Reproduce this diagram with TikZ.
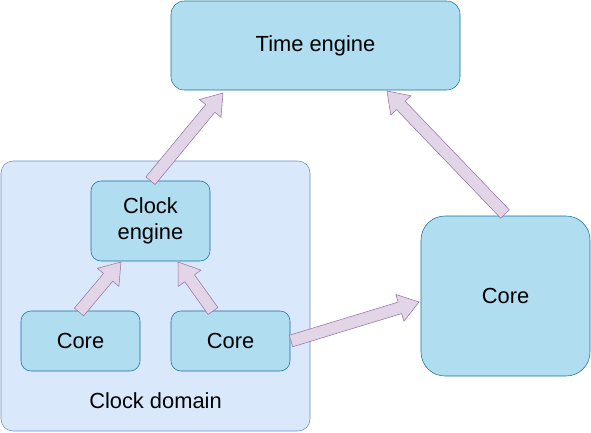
\documentclass[tikz,border=0pt]{standalone}
\usepackage{fontspec}
\setmainfont{Liberation Sans}
\usetikzlibrary{calc}
\definecolor{boxfill}{HTML}{B1DDF0}
\definecolor{boxline}{HTML}{10739E}
\definecolor{domfill}{HTML}{DAE8FC}
\definecolor{domline}{HTML}{6C8EBF}
\definecolor{arrfill}{HTML}{E1D5E7}
\definecolor{arrline}{HTML}{9673A6}
\tikzset{
  unit/.style={draw=boxline, fill=boxfill, rounded corners=7.5pt, align=center,
    font=\fontsize{16.4}{20}\selectfont},
  fatarrow/.style={draw=arrline, fill=arrfill, line join=round}
}
% block arrow from #1 to #2
\newcommand{\blockarrow}[2]{%
  \coordinate (hb) at ($(#2)!15pt!(#1)$);
  \draw[fatarrow] ($(#1)!4.5pt!90:(#2)$) -- ($(hb)!4.5pt!90:(#2)$) -- ($(hb)!10.5pt!90:(#2)$) -- (#2)
    -- ($(hb)!10.5pt!-90:(#2)$) -- ($(hb)!4.5pt!-90:(#2)$) -- ($(#1)!4.5pt!-90:(#2)$) -- cycle;}
\begin{document}
\begin{tikzpicture}[x=0.75pt, y=-0.75pt]
        \useasboundingbox (0,0) rectangle (591,432);
        \node[draw=domline, fill=domfill, rounded corners=9pt, minimum width=231.75pt, minimum height=202.5pt] (domain) at (155.5,296) {};
        \node[font=\fontsize{16.4}{20}\selectfont] (domlabel) at (155.5,401) {Clock domain};
        \node[unit, rounded corners=10pt, minimum width=216.75pt, minimum height=66.75pt] (timeeng) at (315.5,45.5) {Time engine};
        \node[unit, minimum width=89.25pt, minimum height=60pt] (clockeng) at (150.5,221) {Clock\\engine};
        \node[unit, minimum width=89.25pt, minimum height=45pt] (coreA) at (80.5,341) {Core};
        \node[unit, minimum width=89.25pt, minimum height=45pt] (coreB) at (230.5,341) {Core};
        \node[unit, rounded corners=18pt, minimum width=126.75pt, minimum height=120pt] (coreC) at (505.5,296) {Core};
        \coordinate (tipA) at (223,93);
        \coordinate (tipB) at (387,91);
        \coordinate (tipC) at (121,262);
        \coordinate (tipD) at (178,262);
        \coordinate (tipE) at (419,302);
        \coordinate (baseB) at (505,214);
        \coordinate (baseC) at (79,312);
        \coordinate (baseD) at (213,311);
        \coordinate (baseE) at (291,341);
        \blockarrow{clockeng.north}{tipA}
        \blockarrow{baseB}{tipB}
        \blockarrow{baseC}{tipC}
        \blockarrow{baseD}{tipD}
        \blockarrow{baseE}{tipE}
\end{tikzpicture}
\end{document}
